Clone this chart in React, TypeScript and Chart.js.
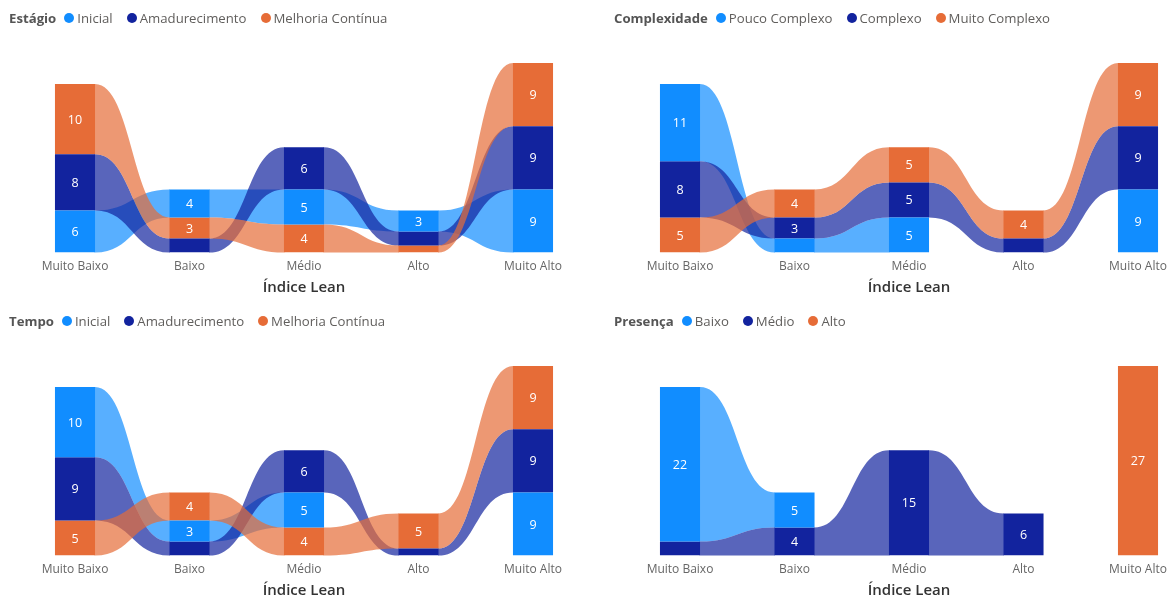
import React, { useEffect, useRef } from "react";
import { Chart, registerables } from "chart.js";
Chart.register(...registerables);

const categories = ["Muito Baixo", "Baixo", "Médio", "Alto", "Muito Alto"];
const axisTitle = "Índice Lean";
const solidColors = ["#118DFF", "#12239E", "#E66C37"];
const ribbonColors = ["rgba(17,141,255,0.7)", "rgba(18,35,158,0.7)", "rgba(230,108,55,0.7)"];

// Estágio
const estagioTitle = "Estágio";
const estagioSeries = ["Inicial", "Amadurecimento", "Melhoria Contínua"];
const estagioInicial = [6, 4, 5, 3, 9];
const estagioAmadurecimento = [8, 2, 6, 2, 9];
const estagioMelhoria = [10, 3, 4, 1, 9];

// Complexidade
const complexidadeTitle = "Complexidade";
const complexidadeSeries = ["Pouco Complexo", "Complexo", "Muito Complexo"];
const complexidadePouco = [11, 2, 5, 0, 9];
const complexidadeComplexo = [8, 3, 5, 2, 9];
const complexidadeMuito = [5, 4, 5, 4, 9];

// Tempo
const tempoTitle = "Tempo";
const tempoSeries = ["Inicial", "Amadurecimento", "Melhoria Contínua"];
const tempoInicial = [10, 3, 5, 0, 9];
const tempoAmadurecimento = [9, 2, 6, 1, 9];
const tempoMelhoria = [5, 4, 4, 5, 9];

// Presença
const presencaTitle = "Presença";
const presencaSeries = ["Baixo", "Médio", "Alto"];
const presencaBaixo = [22, 5, 0, 0, 0];
const presencaMedio = [2, 4, 15, 6, 0];
const presencaAlto = [0, 0, 0, 0, 27];

const FONT = "'Open Sans', 'Noto Sans', sans-serif";

function stackRanges(series: number[][]) {
  const n = categories.length;
  const out: (number[] | null)[][] = series.map(() => new Array(n).fill(null));
  for (let c = 0; c < n; c++) {
    const order = series.map((_, i) => i).sort((a, b) => series[a][c] - series[b][c] || a - b);
    let base = 0;
    for (const i of order) {
      const v = series[i][c];
      if (v > 0) {
        out[i][c] = [base, base + v];
        base += v;
      }
    }
  }
  return out;
}

const ribbonPlugin = {
  id: "ribbons",
  beforeDatasetsDraw(chart: any) {
    const ctx = chart.ctx;
    const y = chart.scales.y;
    ctx.save();
    chart.data.datasets.forEach((ds: any, di: number) => {
      const meta = chart.getDatasetMeta(di);
      for (let c = 0; c < ds.data.length - 1; c++) {
        const a = ds.data[c];
        const b = ds.data[c + 1];
        if (!a || !b) continue;
        const ea = meta.data[c];
        const eb = meta.data[c + 1];
        const x0 = ea.x + ea.width / 2;
        const x1 = eb.x - eb.width / 2;
        const t0 = y.getPixelForValue(a[1]);
        const b0 = y.getPixelForValue(a[0]);
        const t1 = y.getPixelForValue(b[1]);
        const b1 = y.getPixelForValue(b[0]);
        const mx = (x0 + x1) / 2;
        ctx.beginPath();
        ctx.moveTo(x0 - 0.5, t0);
        ctx.lineTo(x0, t0);
        ctx.bezierCurveTo(mx, t0, mx, t1, x1, t1);
        ctx.lineTo(x1 + 0.5, t1);
        ctx.lineTo(x1 + 0.5, b1);
        ctx.lineTo(x1, b1);
        ctx.bezierCurveTo(mx, b1, mx, b0, x0, b0);
        ctx.lineTo(x0 - 0.5, b0);
        ctx.closePath();
        ctx.fillStyle = ds.ribbonColor;
        ctx.fill();
      }
    });
    ctx.restore();
  },
  afterDatasetsDraw(chart: any) {
    const ctx = chart.ctx;
    ctx.save();
    ctx.fillStyle = "#ffffff";
    ctx.font = `12.5px ${FONT}`;
    ctx.textAlign = "center";
    ctx.textBaseline = "middle";
    chart.data.datasets.forEach((ds: any, di: number) => {
      const meta = chart.getDatasetMeta(di);
      ds.data.forEach((r: any, i: number) => {
        if (!r) return;
        const el = meta.data[i];
        const top = chart.scales.y.getPixelForValue(r[1]);
        const bot = chart.scales.y.getPixelForValue(r[0]);
        if (bot - top < 16) return;
        ctx.fillText(String(r[1] - r[0]), el.x, (top + bot) / 2 + 1);
      });
    });
    ctx.restore();
  },
};

type PanelProps = {
  title: string;
  names: string[];
  values: number[][];
  left: number;
  top: number;
  padLeft: number;
  padRight: number;
  legendLeft: number;
};

function Panel({ title, names, values, left, top, padLeft, padRight, legendLeft }: PanelProps) {
  const ref = useRef<HTMLCanvasElement | null>(null);
  useEffect(() => {
    if (!ref.current) return;
    const ranges = stackRanges(values);
    const yMax = Math.max(...categories.map((_, c) => values.reduce((s, v) => s + v[c], 0)));
    const chart = new Chart(ref.current, {
      type: "bar",
      data: {
        labels: categories,
        datasets: names.map((n, i) => ({
          label: n,
          data: ranges[i] as any,
          backgroundColor: solidColors[i],
          ribbonColor: ribbonColors[i],
          borderWidth: 0,
          grouped: false,
          barPercentage: 0.35,
          categoryPercentage: 1,
        })) as any,
      },
      options: {
        animation: false,
        responsive: false,
        layout: { padding: { left: padLeft, right: padRight, top: 63, bottom: 0 } },
        plugins: { legend: { display: false }, tooltip: { enabled: false } },
        scales: {
          x: {
            grid: { display: false, drawTicks: false },
            border: { display: false },
            ticks: { color: "#666666", font: { family: FONT, size: 12 }, padding: 7, maxRotation: 0, autoSkip: false },
            title: { display: true, text: axisTitle, color: "#333333", font: { family: FONT, size: 15, weight: "600" }, padding: { top: -2, bottom: 5 } },
          },
          y: { display: false, min: 0, max: yMax },
        },
      },
      plugins: [ribbonPlugin],
    });
    return () => chart.destroy();
  }, []);
  return (
    <div style={{ position: "absolute", left, top, width: 600, height: 302 }}>
      <canvas ref={ref} width={600} height={302} style={{ width: 600, height: 302, display: "block" }} />
      <div
        style={{
          position: "absolute",
          left: legendLeft,
          top: 8,
          display: "flex",
          alignItems: "center",
          fontFamily: FONT,
          fontSize: 13.2,
          color: "#605E5C",
          whiteSpace: "nowrap",
          lineHeight: "20px",
        }}
      >
        <span style={{ fontWeight: 700, color: "#555555", marginRight: 8 }}>{title}</span>
        {names.map((n, i) => (
          <span key={n} style={{ display: "flex", alignItems: "center", marginRight: 14 }}>
            <span
              style={{ width: 10, height: 10, borderRadius: 5, background: solidColors[i], display: "inline-block", marginRight: 3 }}
            />
            <span>{n}</span>
          </span>
        ))}
      </div>
    </div>
  );
}

export default function App() {
  return (
    <div style={{ position: "fixed", left: 0, top: 0, width: 1171, height: 599, overflow: "hidden", background: "#fff" }}>
      <Panel title={estagioTitle} names={estagioSeries} values={[estagioInicial, estagioAmadurecimento, estagioMelhoria]} left={0} top={0} padLeft={17.75} padRight={9.75} legendLeft={9} />
      <Panel title={complexidadeTitle} names={complexidadeSeries} values={[complexidadePouco, complexidadeComplexo, complexidadeMuito]} left={600} top={0} padLeft={22.75} padRight={4.75} legendLeft={14} />
      <Panel title={tempoTitle} names={tempoSeries} values={[tempoInicial, tempoAmadurecimento, tempoMelhoria]} left={0} top={303} padLeft={17.75} padRight={9.75} legendLeft={9} />
      <Panel title={presencaTitle} names={presencaSeries} values={[presencaBaixo, presencaMedio, presencaAlto]} left={600} top={303} padLeft={22.75} padRight={4.75} legendLeft={14} />
    </div>
  );
}
